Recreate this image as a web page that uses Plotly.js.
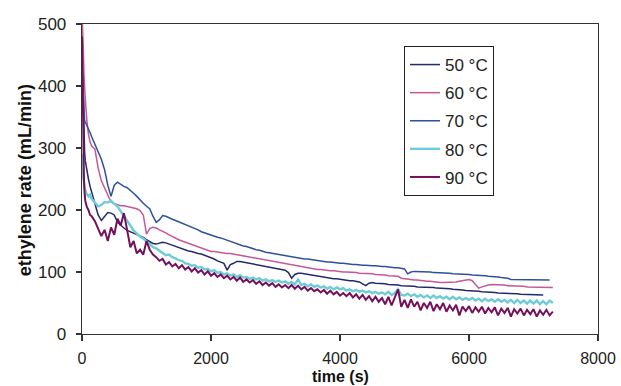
<!DOCTYPE html>
<html>
<head>
<meta charset="utf-8">
<script src="https://cdn.plot.ly/plotly-3.0.1.min.js"></script>
<style>html,body{margin:0;padding:0;background:#fff;}#chart{width:621px;height:386px;}</style>
</head>
<body>
<div id="chart"></div>
<script>
// time (s)
var time = [0,10,20,30,40,50,75,100,125,150,
200,250,300,350,400,450,500,550,600,650,
700,750,800,850,900,950,1000,1050,1100,1150,
1200,1250,1300,1350,1400,1450,1500,1550,1600,1650,
1700,1750,1800,1850,1900,1950,2000,2050,2100,2150,
2200,2250,2300,2350,2400,2450,2500,2550,2600,2650,
2700,2750,2800,2850,2900,2950,3000,3050,3100,3150,
3200,3250,3300,3350,3400,3450,3500,3550,3600,3650,
3700,3750,3800,3850,3900,3950,4000,4050,4100,4150,
4200,4250,4300,4350,4400,4450,4500,4550,4600,4650,
4700,4750,4800,4850,4900,4950,5000,5050,5100,5150,
5200,5250,5300,5350,5400,5450,5500,5550,5600,5650,
5700,5750,5800,5850,5900,5950,6000,6050,6100,6150,
6200,6250,6300,6350,6400,6450,6500,6550,6600,6650,
6700,6750,6800,6850,6900,6950,7000,7050,7100,7150,
7200,7250,7300];

var seriesNames = ['50 °C','60 °C','70 °C','80 °C','90 °C'];
var xTicks = [0,2000,4000,6000,8000];
var yTicks = [0,100,200,300,400,500];
var xTitle = 'time (s)';
var yTitle = 'ethylene rate (mL/min)';

var rate50 = [480,420,360,320,295,280,262,250,238,228,
210,192,183,190,196,195,192,180,175,171,
167,165,163,161,159,156,152,149,146,145,
146,148,147,145,143,141,139,137,136,134,
133,131,130,129,127,125,124,121,118,116,
114,103,112,114,117,117,116,116,115,113,
112,111,110,109,108,107,106,105,104,103,
99,90,96,98,98,97,96,96,95,94,
93,92,91,90,89,89,88,87,87,86,
86,85,84,81,78,82,83,82,82,81,
81,80,80,79,79,78,78,77,77,77,
76,76,76,75,75,75,74,74,73,73,
73,72,72,71,71,70,70,70,69,69,
68,68,67,67,67,66,66,66,65,65,
65,65,64,64,64,64,63,63,63,63];

var rate60 = [520,500,460,420,395,380,345,322,310,303,
298,268,247,236,223,213,210,208,207,207,
206,205,204,202,199,192,161,170,172,171,
168,166,163,160,157,155,152,150,148,146,
144,142,140,138,136,134,133,133,132,131,
131,130,130,129,128,127,126,125,124,123,
122,122,121,120,119,118,117,116,114,113,
112,111,110,109,108,107,106,105,105,104,
104,103,103,102,102,101,101,100,100,100,
99,99,98,98,98,97,97,96,96,95,
95,94,94,93,93,90,89,88,88,87,
87,86,86,85,85,84,84,83,83,83,
83,84,84,85,86,87,88,86,80,74,
76,78,79,80,80,80,79,79,78,78,
78,77,77,77,76,76,76,76,75,75,
75,75,75];

var rate70 = [430,400,370,350,345,342,337,332,325,318,
306,293,282,265,240,222,240,245,241,238,
236,232,227,222,216,211,206,202,190,180,
184,191,190,187,185,183,181,178,176,174,
172,170,168,165,163,161,159,158,156,155,
153,151,149,148,146,144,142,141,139,138,
136,135,133,132,131,130,129,128,127,126,
125,124,123,123,122,121,121,120,119,118,
118,117,116,116,115,115,114,114,113,113,
112,112,111,111,111,110,110,110,109,109,
109,108,108,107,107,106,105,97,100,101,
101,101,100,100,100,99,99,99,98,98,
98,97,97,97,96,96,96,95,95,94,
94,94,93,93,92,92,91,91,90,88,
88,88,88,88,88,88,88,88,88,87,
88,87];

var rate80 = [290,280,255,240,236,232,225,222,225,218,
212,206,208,213,212,215,210,206,198,190,
183,174,167,162,157,154,149,144,140,138,
134,131,127,128,124,122,119,118,114,113,
110,111,107,108,104,105,101,103,99,100,
96,98,94,96,92,95,91,92,89,91,
88,90,86,88,85,87,84,86,83,85,
81,84,80,88,79,81,77,80,76,78,
75,77,73,76,72,75,72,74,70,72,
69,71,68,70,67,69,66,68,65,67,
64,68,63,66,72,63,62,65,61,64,
60,63,59,62,58,62,58,61,57,60,
56,60,56,59,55,58,55,58,54,57,
53,57,53,56,52,56,52,55,51,55,
50,55,50,54,49,54,49,54,48,53,
48,54,50];

var rate90 = [480,380,290,250,228,215,205,200,192,190,
182,170,158,168,150,172,160,186,175,195,
165,140,150,130,136,128,150,136,128,124,
118,121,112,116,109,113,106,111,104,108,
101,106,99,103,96,101,94,98,92,96,
90,94,88,92,86,91,84,88,83,87,
81,85,79,83,78,82,76,80,75,79,
74,79,73,78,72,76,70,74,69,72,
67,71,65,70,64,68,62,66,61,66,
59,64,57,63,55,61,53,60,52,58,
48,60,46,58,72,44,55,42,56,44,
52,38,50,42,52,37,48,40,50,36,
46,38,47,30,44,37,45,34,43,36,
44,33,42,35,43,30,41,34,42,28,
40,33,41,30,39,32,40,28,38,31,
39,30,36];

var seriesColors = ['#232a6c','#c75893','#30509e','#6ecbd8','#74105c'];
var seriesWidths = [1.5,1.5,1.5,2.4,2];
var rates = [rate50, rate60, rate70, rate80, rate90];

var traces = rates.map(function(r, i){
  return {
    x: time, y: r, type: 'scatter', mode: 'lines',
    name: seriesNames[i], legendgroup: 'g' + i,
    line: {color: seriesColors[i], width: seriesWidths[i]}
  };
});

var FAM = 'Arial, "Liberation Sans", sans-serif';
var layout = {
  width: 621, height: 386,
  margin: {l: 82, r: 23, t: 24, b: 52},
  paper_bgcolor: '#ffffff', plot_bgcolor: '#ffffff',
  showlegend: true,
  legend: {
    x: 0.624, y: 0.929, xanchor: 'left', yanchor: 'top',
    bgcolor: '#ffffff', bordercolor: '#222', borderwidth: 1,
    font: {family: FAM, size: 17, color: '#222'},
    tracegroupgap: 3
  },
  xaxis: {
    range: [0, 8000], tickvals: xTicks, ticktext: xTicks.map(String),
    showgrid: false, zeroline: false, showline: true, linecolor: '#333', linewidth: 1.3,
    mirror: true, ticks: 'outside', ticklen: 6, tickcolor: '#333', tickwidth: 1.3,
    tickfont: {family: FAM, size: 16, color: '#222'}, ticklabelstandoff: 3
  },
  yaxis: {
    range: [0, 500], tickvals: yTicks, ticktext: yTicks.map(String),
    showgrid: false, zeroline: false, showline: true, linecolor: '#333', linewidth: 1.3,
    mirror: true, ticks: 'outside', ticklen: 5, tickcolor: '#333', tickwidth: 1.3,
    tickfont: {family: FAM, size: 17, color: '#222'}, ticklabelstandoff: 6
  },
  annotations: [
    {text: '<b>' + xTitle + '</b>', xref: 'paper', yref: 'paper', x: 0.5, y: -0.137,
     xanchor: 'center', yanchor: 'middle', showarrow: false, borderpad: 0,
     font: {family: FAM, size: 16, color: '#111'}},
    {text: '<b>' + yTitle + '</b>', xref: 'paper', yref: 'paper', x: -0.110, y: 0.497,
     xanchor: 'center', yanchor: 'middle', textangle: -90, showarrow: false,
     font: {family: FAM, size: 18, color: '#111'}}
  ]
};

Plotly.newPlot('chart', traces, layout, {displayModeBar: false, staticPlot: true});
</script>
</body>
</html>
